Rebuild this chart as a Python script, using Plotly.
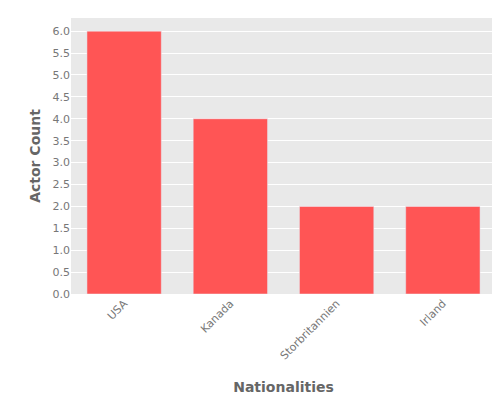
import plotly.graph_objects as go

nationalities = ["USA", "Kanada", "Storbritannien", "Irland"]
actor_counts = [6, 4, 2, 2]

fig = go.Figure(go.Bar(x=nationalities, y=actor_counts, marker_color="#FF5555", width=0.7))
fig.update_layout(
    width=500, height=400,
    margin=dict(l=63, r=12, t=10, b=114),
    plot_bgcolor="#E9E9E9", paper_bgcolor="white",
    font=dict(family="DejaVu Sans", size=11, color="#777777"),
    showlegend=False,
    xaxis=dict(title=dict(text="<b>Nationalities</b>", font=dict(size=14, color="#666666"), standoff=20),
               tickangle=-45, showgrid=False, ticks="", automargin=False),
    yaxis=dict(title=dict(text="<b>Actor Count</b>", font=dict(size=14, color="#666666"), standoff=8),
               range=[0, 6.3], dtick=0.5, tickformat=".1f",
               gridcolor="white", zeroline=False, automargin=False),
)
fig.write_html("out.html")
